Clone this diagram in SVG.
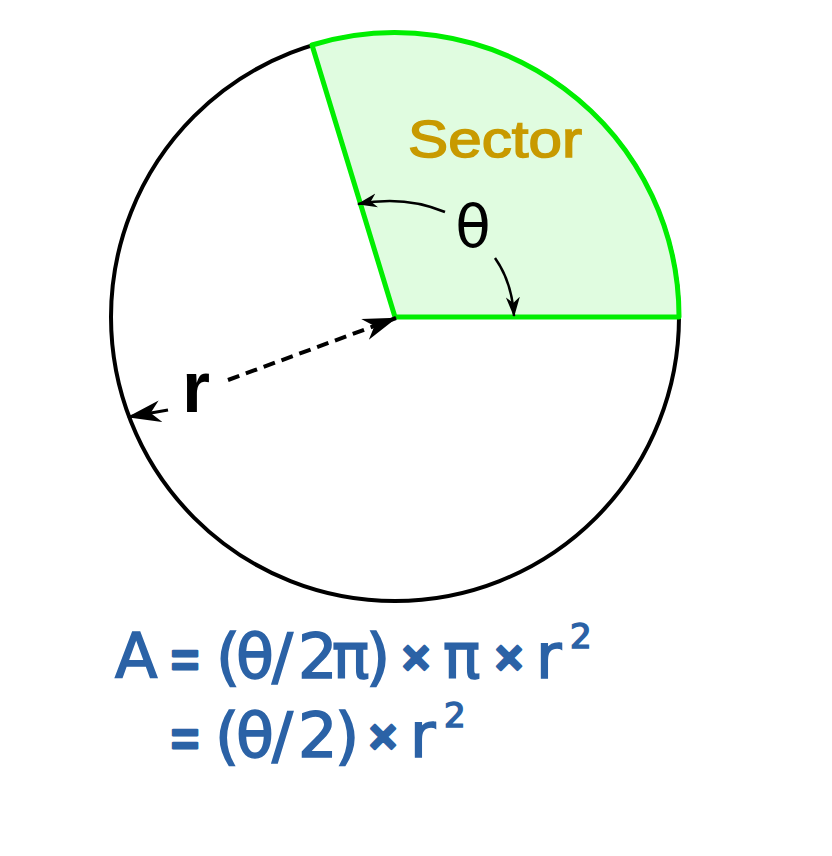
<svg xmlns="http://www.w3.org/2000/svg" width="832" height="856" viewBox="0 0 832 856">
<defs>
<marker id="ah" markerUnits="userSpaceOnUse" markerWidth="34" markerHeight="24" viewBox="0 0 34 24" refX="33" refY="12" orient="auto">
<path d="M0,1 L34,12 L0,23 L10,12 Z" fill="#000"/>
</marker>
<marker id="ahs" markerUnits="userSpaceOnUse" markerWidth="20" markerHeight="16" viewBox="0 0 20 16" refX="19" refY="8" orient="auto">
<path d="M0,1 L20,8 L0,15 L6,8 Z" fill="#000"/>
</marker>
<style>
.circ{fill:#fff;stroke:#000;stroke-width:4}
.sec{fill:#e0fce0;stroke:#00ee00;stroke-width:5;stroke-linejoin:round}
.conn{fill:none;stroke:#000}
.f{font-family:"DejaVu Sans","Liberation Sans",sans-serif;fill:#2b62a6;stroke:#2b62a6;stroke-width:1.6;font-size:62px}
.sup{font-size:34px}
.op{font-family:"Liberation Sans",sans-serif;font-size:48px;font-weight:bold;stroke-width:2.4;stroke-linejoin:round}
</style>
</defs>
<g id="circle">
<circle class="circ" cx="395" cy="317" r="284"/>
</g>
<g id="sector">
<path class="sec" d="M395,317 L312,45 A284,284 0 0,1 679,317 Z"/>
<text x="408" y="157" font-family="Liberation Sans, sans-serif" font-size="52" fill="#c89a00" stroke="#c89a00" stroke-width="1.5" textLength="174" lengthAdjust="spacingAndGlyphs">Sector</text>
</g>
<g id="theta">
<text x="473" y="247" text-anchor="middle" font-family="DejaVu Sans, sans-serif" font-size="58" fill="#000">θ</text>
</g>
<g id="rlabel">
<text x="196" y="412" text-anchor="middle" font-family="Liberation Sans, sans-serif" font-weight="bold" font-size="72" fill="#000">r</text>
</g>
<g id="connectors">
<path class="conn" stroke-width="2.5" d="M445,212 Q405,195 358,204" marker-end="url(#ahs)"/>
<path class="conn" stroke-width="2.5" d="M495,258 Q512,282 514,316" marker-end="url(#ahs)"/>
<path class="conn" stroke-width="4" stroke-dasharray="12,7" d="M228,380 L396,318" marker-end="url(#ah)"/>
<path class="conn" stroke-width="3" d="M168,410 L128,417" marker-end="url(#ah)"/>
</g>
<g id="formula1">
<text class="f" x="115" y="678">A</text>
<text class="f op" x="171" y="677">=</text>
<text class="f" x="216" y="678">(</text>
<text class="f" x="236" y="678">θ</text>
<text class="f" x="272" y="678">/</text>
<text class="f" x="298" y="678">2</text>
<text class="f" x="332" y="678">π</text>
<text class="f" x="366" y="678">)</text>
<text class="f op" x="402" y="674">×</text>
<text class="f" x="443" y="678">π</text>
<text class="f op" x="495" y="674">×</text>
<text class="f" x="536" y="678">r</text>
<text class="f sup" x="570" y="648">2</text>
</g>
<g id="formula2">
<text class="f op" x="171" y="756">=</text>
<text class="f" x="215" y="757">(</text>
<text class="f" x="236" y="757">θ</text>
<text class="f" x="272" y="757">/</text>
<text class="f" x="298" y="757">2</text>
<text class="f" x="335" y="757">)</text>
<text class="f op" x="369" y="753">×</text>
<text class="f" x="410" y="757">r</text>
<text class="f sup" x="444" y="727">2</text>
</g>
</svg>
